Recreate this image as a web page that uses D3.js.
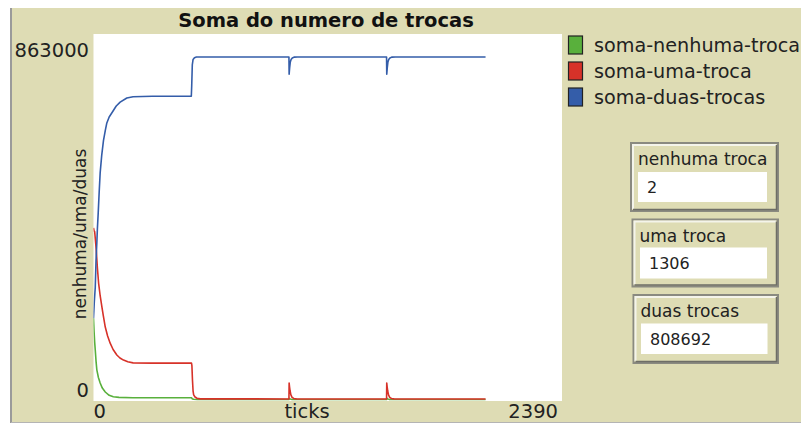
<!DOCTYPE html>
<html><head><meta charset="utf-8">
<script src="https://cdn.jsdelivr.net/npm/d3@7"></script>
<style>
html,body{margin:0;padding:0;background:#fff;}
svg{display:block;font-family:"DejaVu Sans",sans-serif;}
</style></head>
<body>
<svg id="chart" width="801" height="425"></svg>
<script>
// ---- data ----
const chartTitle = "Soma do numero de trocas";
const seriesNames = ["soma-nenhuma-troca", "soma-uma-troca", "soma-duas-trocas"];
const seriesColors = ["#59b03c", "#d73229", "#345da9"];
const xDomain = [0, 2390];
const yDomain = [0, 863000];
const xTickLabels = ["0", "2390"];
const yTickLabels = ["0", "863000"];
const xAxisLabel = "ticks";
const yAxisLabel = "nenhuma/uma/duas";

const somaNenhuma = [[0,192000],[3,160000],[6,135000],[9,117000],[13,90000],[17,70000],[25,52000],[34,39000],[45,27000],[60,17700],[80,10000],[101,6500],[130,5000],[200,4300],[500,4200],[503,2000],[510,600],[530,150],[997,100],[999,2500],[1003,1200],[1010,400],[1025,100],[1495,80],[1497,2500],[1501,1200],[1508,400],[1523,100],[2000,2]];
const somaUma = [[0,405000],[3,398000],[6,396000],[10,375000],[14,353000],[20,310000],[26,275000],[34,245000],[43,218000],[50,198000],[60,171000],[72,150000],[85,133000],[100,118000],[119,105000],[135,98000],[153,93000],[175,89000],[202,86500],[300,86000],[500,86000],[502,80000],[505,45000],[508,20000],[511,11000],[518,6000],[528,3000],[545,1500],[997,1300],[998,39000],[1000,30000],[1003,20000],[1007,11000],[1013,5000],[1022,2500],[1035,1400],[1495,1300],[1496,39000],[1498,30000],[1501,20000],[1505,11000],[1511,5000],[1520,2500],[1533,1400],[2000,1306]];
const somaDuas = [[0,192000],[4,230000],[9,265000],[13,330000],[17,370000],[20,405000],[24,440000],[29,490000],[34,535000],[42,577000],[51,612000],[60,635000],[68,653000],[80,667000],[94,677000],[116,693000],[136,702000],[170,712000],[202,715000],[300,716000],[499,716000],[501,740000],[504,790000],[508,803000],[515,807000],[525,808600],[997,808600],[998,768000],[1001,785000],[1004,797000],[1008,803000],[1014,806500],[1025,808400],[1040,808600],[1495,808600],[1496,768000],[1499,785000],[1502,797000],[1506,803000],[1512,806500],[1523,808400],[1540,808692],[2000,808692]];

const monitorLabels = ["nenhuma troca", "uma troca", "duas trocas"];
const monitorValues = ["2", "1306", "808692"];

// ---- drawing ----
const svg = d3.select("#chart");
const bg = "#dedcb4";

// panel
svg.append("rect").attr("x", 12).attr("y", 8).attr("width", 789).attr("height", 414).attr("fill", bg);
svg.append("line").attr("x1", 11).attr("x2", 11).attr("y1", 8).attr("y2", 423).attr("stroke", "#9a9a9a").attr("stroke-width", 2);
svg.append("line").attr("x1", 11).attr("x2", 801).attr("y1", 422.5).attr("y2", 422.5).attr("stroke", "#b4b4b4").attr("stroke-width", 1);

const plot = {x0: 93.5, x1: 562, y0: 34, y1: 401};
const x = d3.scaleLinear().domain(xDomain).range([plot.x0, plot.x1]);
const y = d3.scaleLinear().domain(yDomain).range([399.5, 34]);

svg.append("rect").attr("x", plot.x0).attr("y", plot.y0)
  .attr("width", plot.x1 - plot.x0).attr("height", plot.y1 - plot.y0).attr("fill", "#fff");

svg.append("text").attr("x", 326).attr("y", 27).attr("text-anchor", "middle")
  .attr("font-size", 19.5).attr("font-weight", "bold").attr("fill", "#111").text(chartTitle);

// y tick labels
svg.append("text").attr("x", 89).attr("y", 57).attr("text-anchor", "end").attr("font-size", 19.5).attr("fill", "#222").text(yTickLabels[1]);
svg.append("text").attr("x", 89).attr("y", 397).attr("text-anchor", "end").attr("font-size", 19.5).attr("fill", "#222").text(yTickLabels[0]);
// x tick labels
svg.append("text").attr("x", x(xDomain[0])).attr("y", 418).attr("text-anchor", "start").attr("font-size", 19.5).attr("fill", "#222").text(xTickLabels[0]);
svg.append("text").attr("x", x(xDomain[1]) - 4).attr("y", 418).attr("text-anchor", "end").attr("font-size", 19.5).attr("fill", "#222").text(xTickLabels[1]);
svg.append("text").attr("x", 307).attr("y", 418).attr("text-anchor", "middle").attr("font-size", 19.5).attr("fill", "#222").text(xAxisLabel);
// y axis label
svg.append("text").attr("transform", "translate(86,234) rotate(-90)").attr("text-anchor", "middle")
  .attr("font-size", 17).attr("fill", "#222").text(yAxisLabel);

// lines
svg.append("clipPath").attr("id", "clip").append("rect")
  .attr("x", plot.x0).attr("y", plot.y0).attr("width", plot.x1 - plot.x0).attr("height", plot.y1 - plot.y0);
const line = d3.line().x(d => x(d[0])).y(d => y(d[1]));
const allSeries = [somaNenhuma, somaUma, somaDuas];
const g = svg.append("g").attr("clip-path", "url(#clip)");
allSeries.forEach((s, i) => {
  g.append("path").attr("d", line(s)).attr("fill", "none")
    .attr("stroke", seriesColors[i]).attr("stroke-width", 1.6).attr("stroke-linejoin", "round");
});

// legend
seriesNames.forEach((name, i) => {
  const yy = 36 + i * 26;
  svg.append("rect").attr("x", 568.5).attr("y", yy).attr("width", 14).attr("height", 18)
    .attr("fill", seriesColors[i]).attr("stroke", "#222").attr("stroke-width", 1.2);
  svg.append("text").attr("x", 594).attr("y", yy + 16).attr("font-size", 19.2).attr("fill", "#222").text(name);
});

// monitors
const monBoxes = [
  {x: 631, y: 143, w: 147, h: 68, fx: 638, fy: 172, fw: 129, fh: 30},
  {x: 632.5, y: 219.5, w: 145.5, h: 67, fx: 640, fy: 247.5, fw: 127, fh: 31},
  {x: 633.5, y: 295, w: 144.5, h: 68, fx: 641, fy: 323.5, fw: 126.5, fh: 30.5}
];
monBoxes.forEach((b, i) => {
  svg.append("rect").attr("x", b.x).attr("y", b.y).attr("width", b.w).attr("height", b.h)
    .attr("fill", bg).attr("stroke", "#8a8a80").attr("stroke-width", 2);
  // bevel highlight
  svg.append("path").attr("d", `M${b.x+2},${b.y+b.h-2} V${b.y+2} H${b.x+b.w-2}`)
    .attr("fill", "none").attr("stroke", "#f4f4ea").attr("stroke-width", 2);
  svg.append("path").attr("d", `M${b.x+2},${b.y+b.h-1.5} H${b.x+b.w-1.5} V${b.y+2}`)
    .attr("fill", "none").attr("stroke", "#6e6e66").attr("stroke-width", 1.5);
  svg.append("text").attr("x", b.x + 7).attr("y", b.y + 22).attr("font-size", 17).attr("fill", "#222").text(monitorLabels[i]);
  svg.append("rect").attr("x", b.fx).attr("y", b.fy).attr("width", b.fw).attr("height", b.fh).attr("fill", "#fff");
  svg.append("text").attr("x", b.fx + 9).attr("y", b.fy + 21).attr("font-size", 16).attr("fill", "#222").text(monitorValues[i]);
});
</script>
</body></html>
